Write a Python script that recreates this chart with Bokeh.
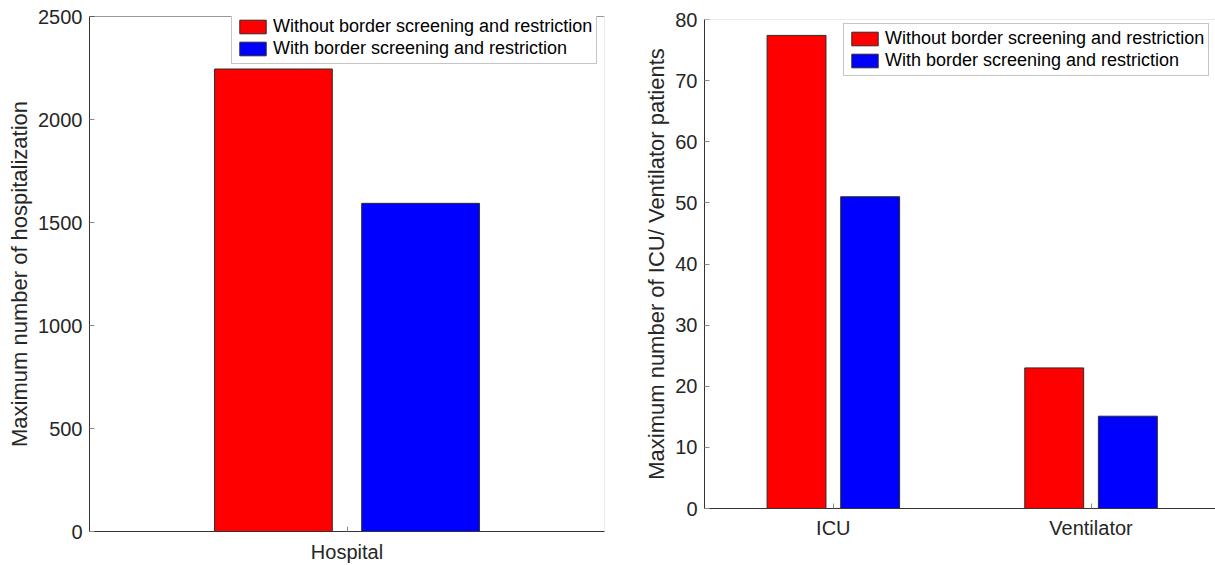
from bokeh.plotting import figure
from bokeh.models import FixedTicker, Legend, LegendItem, Span, Range1d, ColumnDataSource
from bokeh.layouts import row, column
from bokeh.embed import file_html
from bokeh.resources import INLINE

# ---- data ----
series_names = ["Without border screening and restriction",
                "With border screening and restriction"]
series_colors = ["#ff0000", "#0000ff"]

categories_left = ["Hospital"]
without_left = [2245]
with_left = [1593]
y_ticks_left = [0, 500, 1000, 1500, 2000, 2500]
y_label_left = "Maximum number of hospitalization"

categories_right = ["ICU", "Ventilator"]
without_right = [77.4, 23.0]
with_right = [51.0, 15.1]
y_ticks_right = [0, 10, 20, 30, 40, 50, 60, 70, 80]
y_label_right = "Maximum number of ICU/ Ventilator patients"

FONT = "Liberation Sans"
TICK_COLOR = "#262626"


def make_panel(categories, series, y_ticks, y_label, width, height, x_end,
               min_left, min_right, min_top, min_bottom, legend_loc,
               top_color, right_color, x_standoff):
    n = len(series)
    group_w = min(0.8, n / (n + 1.5))
    bar_w = group_w / n * 0.8
    xs = list(range(1, len(categories) + 1))
    p = figure(width=width, height=height, output_backend="svg", toolbar_location=None,
               x_range=Range1d(0.5, x_end), y_range=Range1d(y_ticks[0], y_ticks[-1]),
               min_border_left=min_left, min_border_right=min_right,
               min_border_top=min_top, min_border_bottom=min_bottom)
    p.outline_line_color = None
    p.xgrid.visible = False
    p.ygrid.visible = False
    p.background_fill_color = "white"
    p.border_fill_color = "white"

    renderers = []
    for i, vals in enumerate(series):
        off = (i + 1 - n / 2 - 0.5) * group_w / n
        src = ColumnDataSource(dict(x=[x + off for x in xs], top=vals))
        r = p.vbar(x="x", top="top", width=bar_w, bottom=0, source=src,
                   fill_color=series_colors[i], line_color="#2b2b2b", line_width=1)
        renderers.append(r)

    xa = p.xaxis[0]
    xa.ticker = FixedTicker(ticks=xs)
    xa.major_label_overrides = {x: c for x, c in zip(xs, categories)}
    ya = p.yaxis[0]
    ya.ticker = FixedTicker(ticks=y_ticks)
    ya.axis_label = y_label
    for ax in (xa, ya):
        ax.major_label_text_font = FONT
        ax.major_label_text_font_size = "20px"
        ax.major_label_text_color = TICK_COLOR
        ax.axis_line_color = "#333333"
        ax.axis_line_width = 1
        ax.major_tick_in = 5
        ax.major_tick_out = 0
        ax.major_tick_line_color = "#8a8a8a"
        ax.minor_tick_line_color = None
    xa.major_label_standoff = x_standoff
    ya.major_label_standoff = 7
    ya.axis_label_text_font = FONT
    ya.axis_label_text_font_size = "22px"
    ya.axis_label_text_font_style = "normal"
    ya.axis_label_text_color = TICK_COLOR
    ya.axis_label_standoff = 3

    p.add_layout(Span(location=y_ticks[-1], dimension="width",
                      line_color=top_color, line_width=1))
    if right_color:
        p.add_layout(Span(location=x_end, dimension="height",
                          line_color=right_color, line_width=1))

    legend = Legend(items=[LegendItem(label=s, renderers=[r]) for s, r in zip(series_names, renderers)],
                    location=legend_loc)
    legend.label_text_font = FONT
    legend.label_text_font_size = "18px"
    legend.label_text_color = "#000000"
    legend.glyph_width = 33
    legend.glyph_height = 17
    legend.label_standoff = 4
    legend.label_height = 20
    legend.padding = 4
    legend.spacing = 1
    legend.margin = 0
    legend.border_line_color = "#8c8c8c"
    legend.border_line_width = 1
    legend.background_fill_color = "white"
    legend.background_fill_alpha = 1.0
    p.add_layout(legend, "center")
    return p


p1 = make_panel(categories_left, [without_left, with_left], y_ticks_left, y_label_left,
                width=608, height=565, x_end=1.5,
                min_left=89, min_right=4, min_top=16, min_bottom=33,
                legend_loc=(142, 467), top_color="#333333", right_color="#d4d4d4",
                x_standoff=9)

p2 = make_panel(categories_right, [without_right, with_right], y_ticks_right, y_label_right,
                width=607, height=565, x_end=2.483,
                min_left=96, min_right=0, min_top=19, min_bottom=57,
                legend_loc=(139, 432), top_color="#d4d4d4", right_color=None,
                x_standoff=8)

layout = row(column(p1), column(p2))
open("out.html", "w").write(file_html(layout, INLINE))
